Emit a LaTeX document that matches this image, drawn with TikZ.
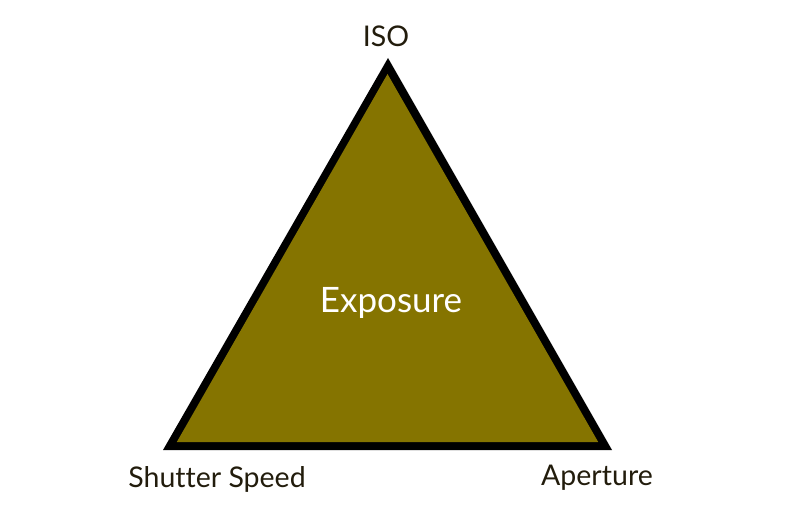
\documentclass[tikz,border=0pt]{standalone}
\usepackage{fontspec}
\setmainfont[Ligatures=NoCommon]{Lato}
\definecolor{olive}{HTML}{857400}
\definecolor{labtxt}{HTML}{221C0C}
\tikzset{
  lab/.style={text=labtxt, font=\fontsize{28.5}{32}\selectfont, inner sep=0pt},
  center/.style={text=white, font=\fontsize{35}{40}\selectfont, inner sep=0pt},
}
\begin{document}
\begin{tikzpicture}[x=1pt,y=-1pt]
\useasboundingbox (0,0) rectangle (800,516);
\fill[black] (388,58) coordinate (A) -- (163,450) coordinate (B) -- (612,450) coordinate (C) -- cycle;
\fill[olive] (387.5,74) -- (176.8,442) -- (598.2,442) -- cycle;
\node[lab, anchor=base] (iso) at (386,47) {ISO};
\node[center, anchor=base] (exp) at (391,312) {Exposure};
\node[lab, anchor=base] (ss) at (217,487) {Shutter Speed};
\node[lab, anchor=base] (ap) at (597,485) {Aperture};
\end{tikzpicture}
\end{document}
